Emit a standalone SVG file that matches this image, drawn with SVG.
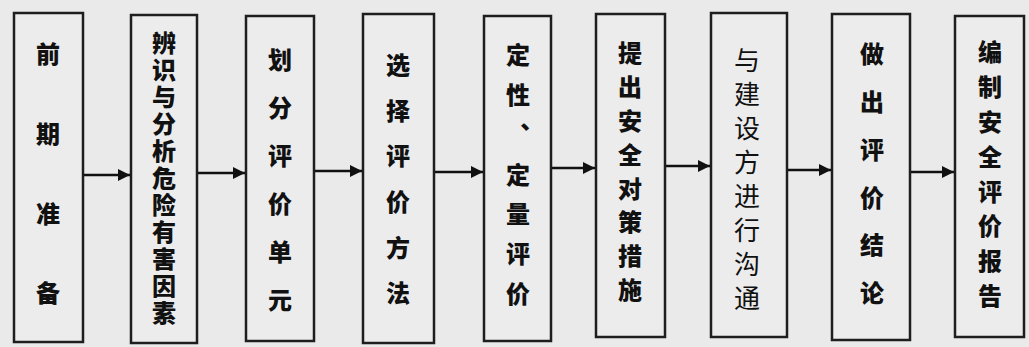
<svg xmlns="http://www.w3.org/2000/svg" width="1029" height="347" viewBox="0 0 1029 347">
<style>
.box{fill:#ececec;stroke:#1e1e1e;stroke-width:2.5}
.t{font-family:"Noto Sans CJK SC",sans-serif;font-weight:900;font-size:24px;fill:#111;writing-mode:vertical-rl;text-orientation:upright}
.s{font-family:"Noto Sans CJK SC",sans-serif;font-weight:400;font-size:26px;fill:#111;writing-mode:vertical-rl;text-orientation:upright}
.c{stroke:#111;stroke-width:2.5;fill:none;marker-end:url(#ah)}
</style>
<defs>
<marker id="ah" viewBox="0 0 10 10" refX="10" refY="5" markerWidth="14" markerHeight="12" markerUnits="userSpaceOnUse" orient="auto">
<path d="M0,0 L10,5 L0,10 z" fill="#111"/>
</marker>
</defs>
<rect width="1029" height="347" fill="#eaeaea"/>
<g id="connectors">
<line class="c" x1="84" y1="175" x2="130" y2="175"/>
<line class="c" x1="198" y1="173" x2="245" y2="173"/>
<line class="c" x1="315" y1="171" x2="362" y2="171"/>
<line class="c" x1="435" y1="172" x2="483" y2="172"/>
<line class="c" x1="552" y1="168" x2="595" y2="168"/>
<line class="c" x1="666" y1="166" x2="710" y2="166"/>
<line class="c" x1="788" y1="170" x2="831" y2="170"/>
<line class="c" x1="911" y1="172" x2="954" y2="172"/>
</g>
<g id="n1">
<rect class="box" x="14" y="13" width="69" height="329"/>
<text class="t" x="48" y="42"><tspan style="letter-spacing:55.7px">前期准</tspan>备</text>
</g>
<g id="n2">
<rect class="box" x="131" y="15" width="66" height="328"/>
<text class="t" x="164" y="31"><tspan style="letter-spacing:3px">辨识与分析危险有害因</tspan>素</text>
</g>
<g id="n3">
<rect class="box" x="246" y="16" width="68" height="325"/>
<text class="t" x="280" y="48"><tspan style="letter-spacing:24px">划分评价单</tspan>元</text>
</g>
<g id="n4">
<rect class="box" x="363" y="14" width="71" height="329"/>
<text class="t" x="398" y="53"><tspan style="letter-spacing:21.6px">选择评价方</tspan>法</text>
</g>
<g id="n5">
<rect class="box" x="484" y="16" width="67" height="325"/>
<text class="t" x="518" y="43"><tspan style="letter-spacing:15.8px">定性、定量评</tspan>价</text>
</g>
<g id="n6">
<rect class="box" x="596" y="14" width="69" height="323"/>
<text class="t" x="630" y="41"><tspan style="letter-spacing:9.86px">提出安全对策措</tspan>施</text>
</g>
<g id="n7">
<rect class="box" x="711" y="13" width="76" height="324"/>
<text class="s" x="747" y="47"><tspan style="letter-spacing:8px">与建设方进行沟</tspan>通</text>
</g>
<g id="n8">
<rect class="box" x="832" y="14" width="78" height="326"/>
<text class="t" x="872" y="42"><tspan style="letter-spacing:23.8px">做出评价结</tspan>论</text>
</g>
<g id="n9">
<rect class="box" x="955" y="16" width="69" height="321"/>
<text class="t" x="990" y="40"><tspan style="letter-spacing:10.86px">编制安全评价报</tspan>告</text>
</g>
</svg>
